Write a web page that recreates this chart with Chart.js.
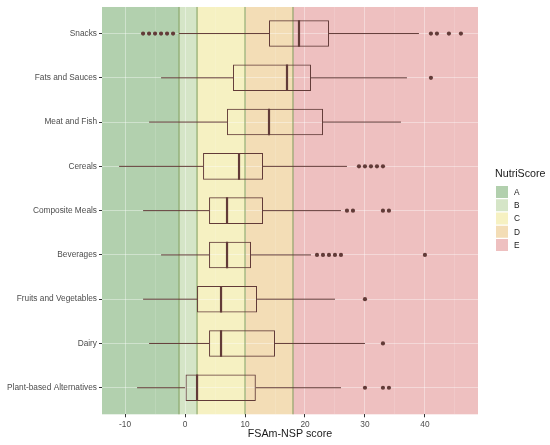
<!DOCTYPE html>
<html><head><meta charset="utf-8">
<script src="https://cdn.jsdelivr.net/npm/chart.js@4"></script>
<style>html,body{margin:0;padding:0;background:#fff}#wrap{width:550px;height:445px;position:relative}</style>
</head><body><div id="wrap"><canvas id="c"></canvas></div>
<script>
const categories = ['Snacks','Fats and Sauces','Meat and Fish','Cereals','Composite Meals','Beverages','Fruits and Vegetables','Dairy','Plant-based Alternatives'];
const whiskerLow = [-1, -4, -6, -11, -7, -4, -7, -6, -8];
const q1 = [14, 8, 7, 3, 4, 4, 2, 4, 0];
const median = [19, 17, 14, 9, 7, 7, 6, 6, 2];
const q3 = [24, 21, 23, 13, 13, 11, 12, 15, 11.8];
const whiskerHigh = [39, 37, 36, 27, 26, 21, 25, 30, 26];
const outliers = [
  [-7, -6, -5, -4, -3, -2, 41, 42, 44, 46],
  [41],
  [],
  [29, 30, 31, 32, 33],
  [27, 28, 33, 34],
  [22, 23, 24, 25, 26, 40],
  [30],
  [33],
  [30, 33, 34]
];
const gradeLabels = ['A', 'B', 'C', 'D', 'E'];
const gradeCuts = [-1, 2, 10, 18];
const gradeColors = ['#b2d0ae', '#d5e5c7', '#f6f1c2', '#f3ddb6', '#eec0c0'];
const xMajorTicks = [-10, 0, 10, 20, 30, 40];
const xMinorTicks = [-5, 5, 15, 25, 35, 45];
const xRange = [-13.85, 48.85];
const boxWidth = 0.6;

const boxColor = '#623b38';
const font = 'Liberation Sans, Arial, sans-serif';

const boxData = categories.map((c, i) => ({ x: [q1[i], q3[i]], y: i }));
const whiskerData = [];
categories.forEach((c, i) => {
  whiskerData.push({ x: whiskerLow[i], y: i }, { x: q1[i], y: i }, { x: null, y: null });
  whiskerData.push({ x: q3[i], y: i }, { x: whiskerHigh[i], y: i }, { x: null, y: null });
});
const medianData = [];
categories.forEach((c, i) => {
  medianData.push({ x: median[i], y: i - boxWidth / 2 }, { x: median[i], y: i + boxWidth / 2 }, { x: null, y: null });
});
const outlierData = [];
outliers.forEach((arr, i) => arr.forEach(v => outlierData.push({ x: v, y: i })));

const bandsPlugin = {
  id: 'bands',
  beforeDraw(chart) {
    const { ctx, chartArea: a, scales: { x } } = chart;
    const edges = [x.min, ...gradeCuts, x.max];
    ctx.save();
    for (let k = 0; k < gradeColors.length; k++) {
      const l = x.getPixelForValue(edges[k]);
      const r = x.getPixelForValue(edges[k + 1]);
      ctx.fillStyle = gradeColors[k];
      ctx.fillRect(l, a.top, r - l, a.bottom - a.top);
    }
    ctx.restore();
  },
  beforeDatasetsDraw(chart) {
    const { ctx, chartArea: a, scales: { x } } = chart;
    ctx.save();
    ctx.strokeStyle = '#7f9d5c';
    ctx.lineWidth = 1;
    gradeCuts.forEach(v => {
      const px = x.getPixelForValue(v);
      ctx.beginPath();
      ctx.moveTo(px, a.top);
      ctx.lineTo(px, a.bottom);
      ctx.stroke();
    });
    ctx.restore();
  },
  afterDraw(chart) {
    const { ctx, chartArea: a } = chart;
    const lx = a.right + 17;
    ctx.save();
    ctx.fillStyle = '#1a1a1a';
    ctx.font = '10.7px ' + font;
    ctx.textBaseline = 'middle';
    ctx.textAlign = 'left';
    ctx.fillText('NutriScore', lx, 174);
    ctx.font = '8.3px ' + font;
    gradeLabels.forEach((g, k) => {
      const top = 186 + k * 13.25;
      ctx.fillStyle = gradeColors[k];
      ctx.fillRect(lx + 1, top, 12, 12);
      ctx.fillStyle = '#1a1a1a';
      ctx.fillText(g, lx + 19, top + 6.5);
    });
    ctx.restore();
  }
};

new Chart(document.getElementById('c'), {
  type: 'bar',
  data: {
    datasets: [
      {
        type: 'line', label: 'whiskers', data: whiskerData, borderColor: boxColor, borderWidth: 1,
        pointRadius: 0, spanGaps: false, fill: false, order: 3
      },
      {
        type: 'bar', label: 'box', data: boxData, backgroundColor: 'rgba(0,0,0,0)', borderColor: boxColor,
        borderWidth: 1, borderSkipped: false, categoryPercentage: boxWidth, barPercentage: 1, grouped: false, order: 2
      },
      {
        type: 'line', label: 'median', data: medianData, borderColor: boxColor, borderWidth: 2.2,
        pointRadius: 0, spanGaps: false, fill: false, order: 1
      },
      {
        type: 'scatter', label: 'outliers', data: outlierData, backgroundColor: boxColor, borderColor: boxColor,
        pointRadius: 2.1, borderWidth: 0, order: 0
      }
    ]
  },
  options: {
    indexAxis: 'y',
    responsive: true,
    maintainAspectRatio: false,
    animation: false,
    events: [],
    layout: { padding: { top: 5.7, right: 72, left: 0, bottom: 0 } },
    plugins: { legend: { display: false }, tooltip: { enabled: false } },
    scales: {
      x: {
        type: 'linear', position: 'bottom', min: xRange[0], max: xRange[1], offset: false,
        afterBuildTicks: s => { s.ticks = [...xMajorTicks, ...xMinorTicks].sort((a, b) => a - b).map(v => ({ value: v })); },
        afterFit: s => { s.height = 30.7; },
        border: { display: false },
        grid: {
          offset: false,
          color: c => (c.tick && xMajorTicks.includes(c.tick.value)) ? 'rgba(255,255,255,0.38)' : 'rgba(255,255,255,0.22)',
          lineWidth: c => (c.tick && xMajorTicks.includes(c.tick.value)) ? 1 : 0.6,
          tickLength: 3,
          tickColor: c => (c.tick && xMajorTicks.includes(c.tick.value)) ? '#333333' : 'rgba(0,0,0,0)'
        },
        ticks: {
          callback: v => xMajorTicks.includes(v) ? String(v) : '',
          color: '#4d4d4d', font: { family: font, size: 8.3 }, padding: 2, maxRotation: 0, autoSkip: false
        },
        title: { display: true, text: 'FSAm-NSP score', color: '#1a1a1a', font: { family: font, size: 10.7 }, padding: { top: 0, bottom: 4.2 } }
      },
      y: {
        type: 'linear', reverse: true, min: -0.6, max: 8.6, offset: false,
        afterBuildTicks: s => { s.ticks = categories.map((c, i) => ({ value: i })); },
        afterFit: s => { s.width = 102; },
        border: { display: false },
        grid: { offset: false, color: 'rgba(255,255,255,0.38)', lineWidth: 1, tickLength: 3, tickColor: '#333333' },
        ticks: {
          callback: v => categories[v],
          color: '#4d4d4d', font: { family: font, size: 8.3 }, padding: 2, autoSkip: false
        }
      }
    }
  },
  plugins: [bandsPlugin]
});
</script></body></html>
